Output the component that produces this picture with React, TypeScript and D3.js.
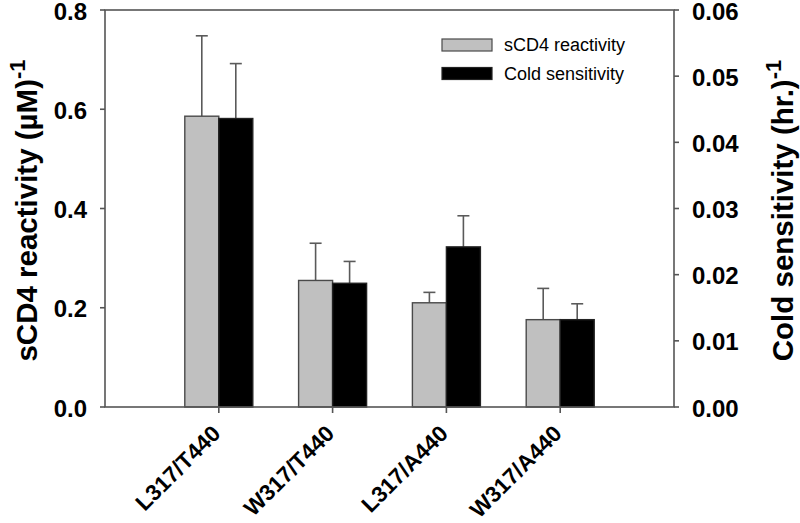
import React, { useEffect, useRef } from 'react';
import * as d3 from 'd3';

const mutants = ["L317/T440", "W317/T440", "L317/A440", "W317/A440"];
const sCD4Reactivity = [0.586, 0.255, 0.210, 0.176];
const sCD4Error = [0.162, 0.075, 0.021, 0.063];
const coldSensitivity = [0.0436, 0.0187, 0.0242, 0.0132];
const coldError = [0.0083, 0.0033, 0.0047, 0.0024];
const leftTicks = [0, 0.2, 0.4, 0.6, 0.8];
const rightTicks = [0, 0.01, 0.02, 0.03, 0.04, 0.05, 0.06];

const width = 800;
const height = 523;
const margin = { top: 10, right: 126, bottom: 116, left: 105 };

const App = () => {
    const svgRef = useRef(null);

    useEffect(() => {
        const svg = d3.select(svgRef.current);
        svg.selectAll("*").remove();

        const font = "Arial, 'Liberation Sans', Helvetica, sans-serif";
        const axisColor = "#555";
        const x0 = margin.left;
        const x1 = width - margin.right;
        const yTop = margin.top;
        const yBot = height - margin.bottom;

        const xScale = d3.scalePoint()
            .domain(mutants)
            .range([x0, x1])
            .padding(1);

        const barW = 34;
        const sub = d3.scaleBand()
            .domain(["sCD4", "cold"])
            .range([-barW, barW]);

        const yLeft = d3.scaleLinear().domain([0, 0.8]).range([yBot, yTop]);
        const yRight = d3.scaleLinear().domain([0, 0.06]).range([yBot, yTop]);

        const rows = mutants.map((m, i) => ({
            name: m,
            series: [
                { key: "sCD4", value: sCD4Reactivity[i], err: sCD4Error[i], y: yLeft, fill: "#c0c0c0" },
                { key: "cold", value: coldSensitivity[i], err: coldError[i], y: yRight, fill: "#000" }
            ]
        }));

        // error bars (drawn first, bars cover the lower half)
        const errG = svg.append("g")
            .attr("stroke", "#5a5a5a")
            .attr("stroke-width", 1.6);
        rows.forEach(r => {
            r.series.forEach(s => {
                const cx = xScale(r.name) + sub(s.key) + sub.bandwidth() / 2;
                errG.append("line")
                    .attr("x1", cx).attr("x2", cx)
                    .attr("y1", s.y(s.value))
                    .attr("y2", s.y(s.value + s.err));
                errG.append("line")
                    .attr("x1", cx - 6).attr("x2", cx + 6)
                    .attr("y1", s.y(s.value + s.err))
                    .attr("y2", s.y(s.value + s.err));
            });
        });

        // bars
        rows.forEach(r => {
            svg.append("g")
                .selectAll("rect")
                .data(r.series)
                .join("rect")
                .attr("x", d => xScale(r.name) + sub(d.key))
                .attr("y", d => d.y(d.value))
                .attr("width", sub.bandwidth())
                .attr("height", d => yBot - d.y(d.value))
                .attr("fill", d => d.fill)
                .attr("stroke", d => d.key === "sCD4" ? "#4a4a4a" : "#222")
                .attr("stroke-width", 1.4);
        });

        // frame
        const frame = svg.append("g")
            .attr("stroke", axisColor)
            .attr("stroke-width", 1.6)
            .attr("fill", "none");
        frame.append("rect")
            .attr("x", x0).attr("y", yTop)
            .attr("width", x1 - x0).attr("height", yBot - yTop);

        // left axis
        leftTicks.forEach(t => {
            frame.append("line")
                .attr("x1", x0 - 5).attr("x2", x0)
                .attr("y1", yLeft(t)).attr("y2", yLeft(t));
        });
        svg.append("g")
            .selectAll("text")
            .data(leftTicks)
            .join("text")
            .attr("x", 87)
            .attr("y", d => yLeft(d) + 9.5)
            .attr("text-anchor", "end")
            .attr("font-family", font)
            .attr("font-weight", "bold")
            .attr("font-size", 24)
            .text(d => d3.format(".1f")(d));

        // right axis
        rightTicks.forEach(t => {
            frame.append("line")
                .attr("x1", x1).attr("x2", x1 + 5)
                .attr("y1", yRight(t)).attr("y2", yRight(t));
        });
        svg.append("g")
            .selectAll("text")
            .data(rightTicks)
            .join("text")
            .attr("x", 692)
            .attr("y", d => yRight(d) + 9.5)
            .attr("text-anchor", "start")
            .attr("font-family", font)
            .attr("font-weight", "bold")
            .attr("font-size", 24)
            .text(d => d3.format(".2f")(d));

        // x ticks + labels
        mutants.forEach(m => {
            frame.append("line")
                .attr("x1", xScale(m)).attr("x2", xScale(m))
                .attr("y1", yBot).attr("y2", yBot + 6);
        });
        svg.append("g")
            .selectAll("text")
            .data(mutants)
            .join("text")
            .attr("transform", d => `translate(${xScale(d) + 3},${yBot + 28}) rotate(-45)`)
            .attr("text-anchor", "end")
            .attr("font-family", font)
            .attr("font-weight", "bold")
            .attr("font-size", 22.5)
            .text(d => d);

        // axis titles
        const midY = (yTop + yBot) / 2;
        const lt = svg.append("text")
            .attr("transform", `translate(37,${midY + 2}) rotate(-90)`)
            .attr("text-anchor", "middle")
            .attr("font-family", font)
            .attr("font-weight", "bold")
            .attr("font-size", 29.5);
        lt.append("tspan").text("sCD4 reactivity (\u00b5M)");
        lt.append("tspan").attr("dy", -12).attr("font-size", 22).text("-1");

        const rt = svg.append("text")
            .attr("transform", `translate(793,${midY + 2}) rotate(-90)`)
            .attr("text-anchor", "middle")
            .attr("font-family", font)
            .attr("font-weight", "bold")
            .attr("font-size", 29.5);
        rt.append("tspan").text("Cold sensitivity (hr.)");
        rt.append("tspan").attr("dy", -12).attr("font-size", 22).text("-1");

        // legend
        const legend = [
            { label: "sCD4 reactivity", fill: "#c0c0c0", stroke: "#4a4a4a" },
            { label: "Cold sensitivity", fill: "#000", stroke: "#222" }
        ];
        const lg = svg.append("g");
        legend.forEach((l, i) => {
            const cy = 45 + i * 28.5;
            lg.append("rect")
                .attr("x", 442).attr("y", cy - 6)
                .attr("width", 50).attr("height", 12)
                .attr("fill", l.fill)
                .attr("stroke", l.stroke)
                .attr("stroke-width", 1.2);
            lg.append("text")
                .attr("x", 504).attr("y", cy)
                .attr("dy", "0.35em")
                .attr("font-family", font)
                .attr("font-size", 18)
                .text(l.label);
        });
    }, []);

    return (
        <div style={{ position: 'absolute', left: 0, top: 0 }}>
            <svg ref={svgRef} width={width} height={height}></svg>
        </div>
    );
};

export default App;
